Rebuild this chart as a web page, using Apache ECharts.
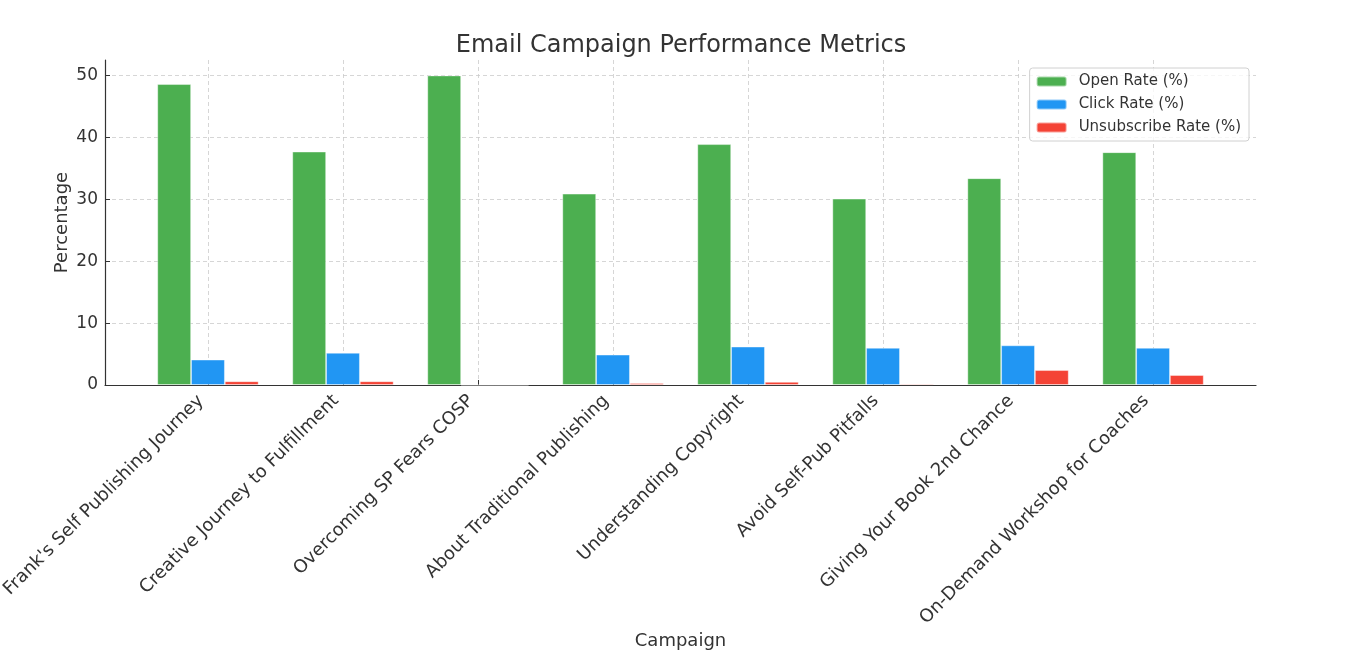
<!DOCTYPE html>
<html><head><meta charset="utf-8">
<script src="https://cdn.jsdelivr.net/npm/echarts@6/dist/echarts.min.js"></script>
<style>html,body{margin:0;padding:0;background:#fff}#c{width:1362px;height:670px}</style>
</head><body><div id="c"></div>
<script>
const categories = ["Frank's Self Publishing Journey","Creative Journey to Fulfillment","Overcoming SP Fears COSP","About Traditional Publishing","Understanding Copyright","Avoid Self-Pub Pitfalls","Giving Your Book 2nd Chance","On-Demand Workshop for Coaches"];
const openRate = [48.6, 37.7, 50.0, 30.9, 38.9, 30.1, 33.4, 37.6];
const clickRate = [4.1, 5.2, 0, 4.9, 6.2, 6.0, 6.4, 6.0];
const unsubRate = [0.6, 0.6, 0, 0.3, 0.5, 0.2, 2.4, 1.6];
const yTicks = [0, 10, 20, 30, 40, 50];

const idx = categories.map((_, i) => i);
const font = 'DejaVu Sans';
const txt = '#333333';
const chart = echarts.init(document.getElementById('c'), null, {renderer: 'canvas'});
const mk = (name, arr, color) => ({
  name, type: 'bar', data: arr.map((v, i) => [i, v]),
  barWidth: '25%', barGap: '0%',
  itemStyle: {color, borderColor: 'rgba(255,255,255,0.5)', borderWidth: 0.8},
  emphasis: {disabled: true}
});
chart.setOption({
  animation: false,
  textStyle: {fontFamily: font},
  title: {text: 'Email Campaign Performance Metrics', left: 'center', top: 29,
    textStyle: {fontFamily: font, fontSize: 24, fontWeight: 'normal', color: txt}},
  legend: {orient: 'vertical', right: 113, top: 68, itemWidth: 30, itemHeight: 10, itemGap: 8,
    padding: [6, 8, 6, 6], borderColor: '#d0d0d0', borderWidth: 1, borderRadius: 3,
    backgroundColor: 'rgba(255,255,255,0.8)',
    textStyle: {fontFamily: font, fontSize: 15, color: txt, padding: [0, 0, 0, 7]},
    data: ['Open Rate (%)', 'Click Rate (%)', 'Unsubscribe Rate (%)']},
  grid: {left: 105, top: 60, width: 1151, height: 325, containLabel: false, outerBoundsMode: 'none'},
  xAxis: {
    type: 'value', min: -0.7625, max: categories.length - 1 + 0.7625,
    name: 'Campaign', nameLocation: 'middle', nameGap: 247, nameMoveOverlap: false,
    nameTextStyle: {fontFamily: font, fontSize: 18, color: txt},
    axisLine: {show: true, onZero: false, lineStyle: {color: '#333', width: 1.2}},
    axisTick: {show: true, inside: true, customValues: idx, length: 5, lineStyle: {color: '#333'}},
    axisLabel: {customValues: idx, rotate: 45, fontSize: 18, color: txt, margin: 6,
      padding: [0, 10, 0, 0],
      formatter: v => categories[Math.round(v)] || ''},
    splitLine: {show: true, lineStyle: {color: '#cccccc', type: [4, 3], width: 0.8}}
  },
  yAxis: {
    type: 'value', min: 0, max: 52.5,
    name: 'Percentage', nameLocation: 'middle', nameGap: 34, nameMoveOverlap: false,
    nameTextStyle: {fontFamily: font, fontSize: 18, color: txt},
    axisLine: {show: true, onZero: false, lineStyle: {color: '#333', width: 1.2}},
    axisTick: {show: true, inside: true, customValues: yTicks, length: 5, lineStyle: {color: '#333'}},
    axisLabel: {customValues: yTicks, fontSize: 17, color: txt, margin: 7},
    splitLine: {show: true, lineStyle: {color: '#cccccc', type: [4, 3], width: 0.8}}
  },
  series: [
    mk('Open Rate (%)', openRate, '#4CAF50'),
    mk('Click Rate (%)', clickRate, '#2196F3'),
    mk('Unsubscribe Rate (%)', unsubRate, '#F44336')
  ]
});
</script></body></html>
